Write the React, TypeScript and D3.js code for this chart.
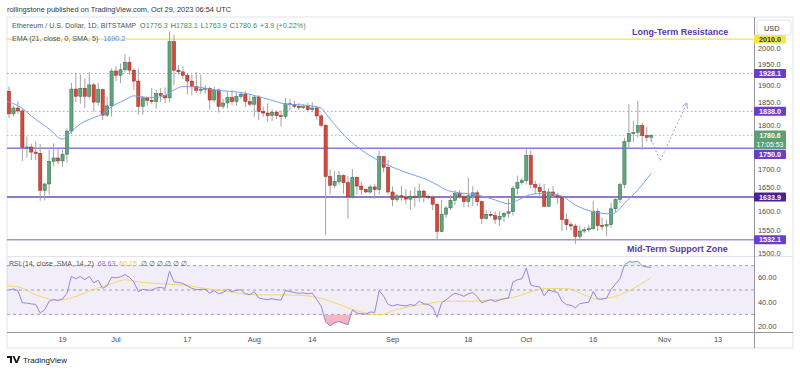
import React from "react";
import * as d3 from "d3";

// daily candles, Jun 7 .. Oct 29 2023 (Bitstamp ETH/USD)
const days = d3.utcDay.range(new Date(Date.UTC(2023, 5, 7)), new Date(Date.UTC(2023, 9, 30)));

const opens = [
  1886, 1832, 1846, 1839, 1752, 1753, 1741, 1738, 1650, 1665,
  1719, 1727, 1720, 1736, 1791, 1891, 1874, 1893, 1874, 1901,
  1860, 1890, 1829, 1851, 1934, 1924, 1937, 1955, 1936, 1910,
  1850, 1870, 1864, 1861, 1880, 1876, 1870, 2004, 1936, 1932,
  1924, 1910, 1897, 1888, 1891, 1893, 1865, 1889, 1850, 1858,
  1871, 1861, 1873, 1879, 1861, 1855, 1872, 1838, 1834, 1828,
  1836, 1828, 1826, 1856, 1854, 1850, 1847, 1849, 1842, 1846,
  1827, 1805, 1683, 1662, 1671, 1685, 1668, 1634, 1681, 1660,
  1652, 1646, 1658, 1652, 1730, 1705, 1646, 1628, 1637, 1634,
  1629, 1636, 1634, 1648, 1635, 1633, 1617, 1552, 1593, 1608,
  1626, 1642, 1635, 1623, 1637, 1644, 1623, 1583, 1593, 1590,
  1581, 1588, 1595, 1599, 1655, 1668, 1673, 1733, 1664, 1657,
  1647, 1612, 1646, 1638, 1634, 1580, 1568, 1565, 1540, 1553,
  1556, 1559, 1600, 1566, 1565, 1568, 1606, 1628, 1664, 1766,
  1785, 1788, 1804, 1780, 1776.3,
];
const highs = [
  1897, 1852, 1862, 1844, 1778, 1761, 1766, 1760, 1668, 1746,
  1762, 1748, 1746, 1797, 1906, 1930, 1926, 1916, 1932, 1906,
  1906, 1892, 1873, 1940, 1946, 1952, 1975, 1968, 1940, 1940,
  1875, 1872, 1893, 1890, 1893, 1895, 2028, 2020, 1948, 1945,
  1928, 1925, 1932, 1926, 1900, 1896, 1896, 1892, 1868, 1885,
  1889, 1884, 1883, 1886, 1877, 1876, 1877, 1849, 1857, 1843,
  1840, 1840, 1870, 1868, 1863, 1858, 1855, 1859, 1860, 1850,
  1832, 1807, 1700, 1696, 1696, 1688, 1684, 1700, 1683, 1670,
  1655, 1663, 1665, 1745, 1732, 1722, 1659, 1641, 1660, 1653,
  1650, 1658, 1666, 1651, 1640, 1638, 1619, 1627, 1613, 1638,
  1650, 1650, 1640, 1680, 1660, 1650, 1625, 1602, 1600, 1600,
  1600, 1598, 1630, 1660, 1685, 1680, 1750, 1745, 1673, 1667,
  1665, 1655, 1660, 1644, 1636, 1595, 1575, 1570, 1566, 1563,
  1568, 1625, 1607, 1585, 1580, 1620, 1634, 1668, 1775, 1855,
  1815, 1863, 1810, 1801, 1783.1,
];
const lows = [
  1822, 1826, 1831, 1720, 1728, 1722, 1722, 1625, 1626, 1640,
  1707, 1712, 1706, 1716, 1784, 1860, 1856, 1846, 1868, 1837,
  1852, 1817, 1825, 1825, 1910, 1905, 1930, 1925, 1888, 1830,
  1830, 1851, 1856, 1845, 1861, 1858, 1860, 1900, 1925, 1915,
  1878, 1876, 1882, 1880, 1880, 1842, 1859, 1835, 1843, 1845,
  1853, 1851, 1868, 1848, 1850, 1825, 1817, 1825, 1813, 1815,
  1820, 1802, 1820, 1840, 1845, 1842, 1844, 1838, 1836, 1818,
  1800, 1543, 1640, 1655, 1663, 1642, 1583, 1630, 1640, 1640,
  1643, 1642, 1630, 1640, 1693, 1640, 1612, 1622, 1625, 1617,
  1604, 1611, 1622, 1621, 1628, 1603, 1533, 1550, 1585, 1603,
  1615, 1630, 1610, 1610, 1612, 1612, 1570, 1580, 1585, 1570,
  1565, 1575, 1585, 1590, 1640, 1663, 1664, 1655, 1641, 1635,
  1610, 1610, 1632, 1618, 1553, 1555, 1555, 1522, 1533, 1548,
  1551, 1556, 1553, 1555, 1540, 1561, 1598, 1620, 1655, 1750,
  1765, 1775, 1746, 1766, 1763.9,
];
const closes = [
  1832, 1846, 1839, 1752, 1753, 1741, 1738, 1650, 1665, 1719,
  1727, 1720, 1736, 1791, 1891, 1874, 1893, 1874, 1901, 1860,
  1890, 1829, 1851, 1934, 1924, 1937, 1955, 1936, 1910, 1850,
  1870, 1864, 1861, 1880, 1876, 1870, 2004, 1936, 1932, 1924,
  1910, 1897, 1888, 1891, 1893, 1865, 1889, 1850, 1858, 1871,
  1861, 1873, 1879, 1861, 1855, 1872, 1838, 1834, 1828, 1836,
  1828, 1826, 1856, 1854, 1850, 1847, 1849, 1842, 1846, 1827,
  1805, 1683, 1662, 1671, 1685, 1668, 1634, 1681, 1660, 1652,
  1646, 1658, 1652, 1730, 1705, 1646, 1628, 1637, 1634, 1629,
  1636, 1634, 1648, 1635, 1633, 1617, 1552, 1593, 1608, 1626,
  1642, 1635, 1623, 1637, 1644, 1623, 1583, 1593, 1590, 1581,
  1588, 1595, 1599, 1655, 1668, 1673, 1733, 1664, 1657, 1647,
  1612, 1646, 1638, 1634, 1580, 1568, 1565, 1540, 1553, 1556,
  1559, 1600, 1566, 1565, 1568, 1606, 1628, 1664, 1766, 1785,
  1788, 1804, 1780, 1776.3, 1780.6,
];

// EMA 21
const emaPoints: [string, number][] = [
  ["2023-06-05", 1864], ["2023-06-07", 1860], ["2023-06-10", 1845], ["2023-06-12", 1827],
  ["2023-06-16", 1796], ["2023-06-19", 1772], ["2023-06-21", 1790], ["2023-06-23", 1808],
  ["2023-06-26", 1823], ["2023-06-28", 1832], ["2023-06-30", 1849], ["2023-07-03", 1865],
  ["2023-07-05", 1875], ["2023-07-07", 1872], ["2023-07-10", 1871], ["2023-07-12", 1876],
  ["2023-07-14", 1889], ["2023-07-16", 1897], ["2023-07-19", 1896], ["2023-07-23", 1889],
  ["2023-07-30", 1881], ["2023-08-02", 1873], ["2023-08-06", 1861], ["2023-08-08", 1855],
  ["2023-08-12", 1853], ["2023-08-16", 1846], ["2023-08-17", 1833], ["2023-08-19", 1807],
  ["2023-08-22", 1772], ["2023-08-25", 1746], ["2023-08-29", 1720], ["2023-09-01", 1705],
  ["2023-09-05", 1689], ["2023-09-09", 1674], ["2023-09-11", 1663], ["2023-09-13", 1651],
  ["2023-09-16", 1644], ["2023-09-20", 1639], ["2023-09-24", 1627], ["2023-09-27", 1618],
  ["2023-09-29", 1626], ["2023-10-02", 1640], ["2023-10-05", 1643], ["2023-10-09", 1636],
  ["2023-10-12", 1615], ["2023-10-16", 1599], ["2023-10-20", 1594], ["2023-10-21", 1597],
  ["2023-10-23", 1619], ["2023-10-26", 1651], ["2023-10-29", 1690.2],
];

// RSI 14, one value per candle
const rsiValues = [
  50.0, 50.8, 49.5, 39.5, 39.3, 38.6, 38.2, 31.1, 33.8, 40.8,
  42.1, 41.5, 42.6, 47.4, 61.1, 59.2, 61.1, 58.4, 61.1, 55.8,
  58.0, 51.3, 53.5, 60.5, 60.0, 60.8, 62.6, 60.4, 56.6, 48.7,
  50.5, 50.0, 49.8, 51.6, 52.1, 51.3, 65.3, 56.6, 56.2, 55.3,
  53.5, 51.3, 50.3, 50.5, 50.5, 47.4, 49.5, 47.0, 47.9, 50.5,
  48.7, 49.8, 50.2, 46.9, 46.2, 48.7, 43.4, 42.6, 42.1, 42.8,
  42.1, 41.8, 49.5, 48.8, 47.9, 47.3, 47.6, 46.9, 47.5, 42.1,
  36.9, 23.7, 20.6, 23.2, 24.2, 22.8, 21.6, 33.7, 31.1, 30.5,
  30.3, 32.0, 31.6, 49.5, 45.0, 38.2, 36.9, 38.0, 37.4, 37.0,
  38.0, 37.4, 40.8, 38.6, 38.2, 36.0, 27.7, 39.5, 42.0, 45.0,
  47.4, 46.3, 44.8, 46.8, 47.9, 44.5, 39.5, 41.0, 42.1, 40.6,
  41.8, 42.8, 43.4, 56.6, 58.4, 59.2, 67.9, 54.0, 53.0, 52.6,
  45.3, 50.0, 48.9, 48.0, 40.8, 38.0, 37.5, 35.5, 38.8, 39.5,
  40.0, 48.7, 42.6, 42.5, 43.4, 50.5, 54.8, 59.2, 70.5, 73.2,
  73.0, 73.7, 69.7, 68.9, 68.63,
];

// SMA 14 of RSI (yellow)
const rsiSmaPoints: [string, number][] = [
  ["2023-06-05", 53.4], ["2023-06-07", 53.2], ["2023-06-09", 52.6], ["2023-06-13", 46.0],
  ["2023-06-18", 41.6], ["2023-06-22", 44.8], ["2023-06-26", 50.5], ["2023-06-30", 55.3],
  ["2023-07-03", 58.4], ["2023-07-06", 56.6], ["2023-07-10", 55.3], ["2023-07-16", 54.0],
  ["2023-07-21", 51.3], ["2023-07-26", 48.7], ["2023-08-02", 46.0], ["2023-08-08", 46.0],
  ["2023-08-14", 44.8], ["2023-08-19", 39.5], ["2023-08-24", 32.9], ["2023-08-29", 29.5],
  ["2023-09-02", 34.2], ["2023-09-08", 38.2], ["2023-09-13", 40.8], ["2023-09-18", 40.8],
  ["2023-09-24", 42.1], ["2023-09-29", 44.8], ["2023-10-02", 48.7], ["2023-10-06", 51.3],
  ["2023-10-10", 51.3], ["2023-10-14", 46.0], ["2023-10-17", 42.6], ["2023-10-21", 44.8],
  ["2023-10-25", 51.3], ["2023-10-29", 60.15],
];

const levels = [2010.0, 1928.1, 1838.0, 1750.0, 1633.9, 1532.1];
const lastPrice = 1780.6;
const priceTicks = [1500, 1550, 1600, 1650, 1700, 1750, 1800, 1850, 1900, 1950, 2000];
const rsiTicks = [20, 40, 60];
const rsiBands = [70, 50, 30];
const timeTicks: [string, string][] = [
  ["2023-06-19", "19"], ["2023-07-01", "Jul"], ["2023-07-17", "17"], ["2023-08-01", "Aug"],
  ["2023-08-14", "14"], ["2023-09-01", "Sep"], ["2023-09-18", "18"], ["2023-10-01", "Oct"],
  ["2023-10-16", "16"], ["2023-11-01", "Nov"], ["2023-11-13", "13"],
];
const forecast: [string, number][] = [["2023-10-29", 1772], ["2023-10-31", 1720], ["2023-11-06", 1858]];

const levelStyle = [
  { line: "#f3e15c", dash: "", w: 1.2, box: "#f5e34a", txt: "#333" },
  { line: "#a596ea", dash: "1.5 2.5", w: 1, box: "#6a3fc6", txt: "#fff" },
  { line: "#a596ea", dash: "1.5 2.5", w: 1, box: "#6a3fc6", txt: "#fff" },
  { line: "#9576d8", dash: "", w: 1.4, box: "#6a3fc6", txt: "#fff" },
  { line: "#6f4dbb", dash: "", w: 1.4, box: "#4b2296", txt: "#fff" },
  { line: "#a592de", dash: "", w: 1.4, box: "#6a3fc6", txt: "#fff" },
];

const FONT = "'Liberation Sans', Arial, sans-serif";
const toDate = (s: string) => new Date(s + "T00:00:00Z");

const L = 7, PR = 754, R = 793;
const PT = 18, PB = 256, RT = 257, RB = 332, AB = 348;

export default function App() {
  const x = d3.scaleUtc().domain([days[0], days[days.length - 1]]).range([9, 651.2]);
  const y = d3.scaleLinear().domain([1500, 1800]).range([253.3, 127.3]);
  const yr = d3.scaleLinear().domain([30, 70]).range([314.4, 265.6]);

  const emaLine = d3.line<[string, number]>()
    .x((d) => x(toDate(d[0])))
    .y((d) => y(d[1]))
    .curve(d3.curveMonotoneX);
  const rsiLine = d3.line<number>()
    .x((_, i) => x(days[i]))
    .y((d) => yr(d));
  const smaLine = d3.line<[string, number]>()
    .x((d) => x(toDate(d[0])))
    .y((d) => yr(d[1]))
    .curve(d3.curveMonotoneX);
  const lowArea = d3.area<number>()
    .x((_, i) => x(days[i]))
    .y0(yr(30))
    .y1((d) => yr(d));
  const highArea = d3.area<number>()
    .x((_, i) => x(days[i]))
    .y0(yr(70))
    .y1((d) => yr(d));

  const fc = forecast.map((d) => [x(toDate(d[0])), y(d[1])] as [number, number]);
  const tip = fc[fc.length - 1];
  const prev = fc[fc.length - 2];
  const ang = Math.atan2(tip[1] - prev[1], tip[0] - prev[0]);
  const head = (a: number) => [tip[0] - 6 * Math.cos(ang + a), tip[1] - 6 * Math.sin(ang + a)];
  const h1 = head(0.5), h2 = head(-0.5);

  const bw = 3.2;
  const ly = y(lastPrice);

  // axis label boxes: last price box (with countdown) sits on its price, the 1750 box is pushed below it
  const lastBox = { top: ly - 5, h: 19 };
  const boxCenter = (p: number, i: number) => (i === 3 ? lastBox.top + lastBox.h + 5 : y(p));
  const boxes = levels.map((p, i) => [boxCenter(p, i) - 4.5, boxCenter(p, i) + 4.5]);
  boxes.push([lastBox.top, lastBox.top + lastBox.h]);
  const covered = (p: number) => boxes.some(([a, b]) => y(p) > a + 1 && y(p) < b - 1);
  // ticks that only graze a box are nudged off it so both stay readable
  const tickY = (p: number) => {
    let ty = y(p);
    boxes.forEach(([a, b]) => {
      if (ty + 4.7 > a && ty - 4.7 < b) ty = ty < (a + b) / 2 ? a - 4.7 : b + 4.7;
    });
    return ty;
  };

  return (
    <svg width={800} height={372} style={{ display: "block", position: "absolute", left: 0, top: 0 }} fontFamily={FONT}>
      <defs>
        <clipPath id="pricePane"><rect x={L} y={PT} width={PR - L} height={PB - PT} /></clipPath>
        <clipPath id="rsiPane"><rect x={L} y={RT} width={PR - L} height={RB - RT} /></clipPath>
        <clipPath id="below30"><rect x={L} y={yr(30)} width={PR - L} height={RB - yr(30)} /></clipPath>
        <clipPath id="above70"><rect x={L} y={RT} width={PR - L} height={yr(70) - RT} /></clipPath>
        <clipPath id="axisPane"><rect x={PR} y={PT} width={R - PR} height={PB - PT} /></clipPath>
        <linearGradient id="pinkFill" x1="0" y1="0" x2="0" y2="1">
          <stop offset="0%" stopColor="#f7c6cf" stopOpacity={0.5} />
          <stop offset="100%" stopColor="#f28aa0" stopOpacity={0.7} />
        </linearGradient>
      </defs>
      <rect x={0} y={0} width={800} height={372} fill="#fff" />

      <text x={7} y={12} fontSize={7.4} fill="#333">
        rollingstone published on TradingView.com, Oct 29, 2023 06:54 UTC
      </text>

      {/* frame */}
      <rect x={L} y={17} width={R - L} height={AB - 17} fill="none" stroke="#e0e3eb" />
      <line x1={L} x2={R} y1={PB + 0.5} y2={PB + 0.5} stroke="#e0e3eb" />
      <line x1={L} x2={R} y1={RB + 0.5} y2={RB + 0.5} stroke="#9598a1" />
      <line x1={PR + 0.5} x2={PR + 0.5} y1={17} y2={AB} stroke="#9598a1" />

      {/* price pane */}
      <g clipPath="url(#pricePane)">
        {levels.map((p, i) => (
          <line key={p} x1={L} x2={PR} y1={y(p)} y2={y(p)} stroke={levelStyle[i].line}
            strokeWidth={levelStyle[i].w} strokeDasharray={levelStyle[i].dash} />
        ))}
        <line x1={L} x2={PR} y1={ly} y2={ly} stroke="#9fc7b0" strokeDasharray="1.5 2.5" />
        {days.map((d, i) => (
          <line key={"w" + i} x1={x(d)} x2={x(d)} y1={y(highs[i])} y2={y(lows[i])} stroke="#a3a3a3" strokeWidth={1} />
        ))}
        {days.map((d, i) => {
          const up = closes[i] >= opens[i];
          const top = y(Math.max(opens[i], closes[i]));
          const hgt = Math.max(1, Math.abs(y(opens[i]) - y(closes[i])));
          return (
            <rect key={"b" + i} x={x(d) - bw / 2} y={top} width={bw} height={hgt}
              fill={up ? "#62a57c" : "#d64a3e"} stroke={up ? "#2d6e48" : "#8e2a21"} strokeWidth={0.5} />
          );
        })}
        <path d={emaLine(emaPoints) || ""} fill="none" stroke="#74a2f4" strokeWidth={1} />
        <polyline points={fc.map((p) => p.join(",")).join(" ")} fill="none" stroke="#aa9ded" strokeWidth={1} strokeDasharray="2 2" />
        <polyline points={[h1, tip, h2].map((p) => p.join(",")).join(" ")} fill="none" stroke="#aa9ded" strokeWidth={1} />
        <text x={632} y={35} fontSize={9} fontWeight="bold" fill="#5b36ad">Long-Term Resistance</text>
        <text x={627} y={252} fontSize={9} fontWeight="bold" fill="#5b36ad">Mid-Term Support Zone</text>
      </g>

      {/* legend */}
      <text x={12} y={28} fontSize={7.2} fill="#555">
        Ethereum / U.S. Dollar, 1D, BITSTAMP
        <tspan dx={4}>O</tspan><tspan fill="#3f8a5e">1776.3</tspan>
        <tspan dx={3}>H</tspan><tspan fill="#3f8a5e">1783.1</tspan>
        <tspan dx={3}>L</tspan><tspan fill="#3f8a5e">1763.9</tspan>
        <tspan dx={3}>C</tspan><tspan fill="#3f8a5e">1780.6</tspan>
        <tspan dx={3} fill="#3f8a5e">+3.9 (+0.22%)</tspan>
      </text>
      <text x={12} y={41} fontSize={7.2} fill="#555">
        EMA (21, close, 0, SMA, 5)<tspan dx={5} fill="#4f8ef0">1690.2</tspan>
      </text>

      {/* price axis */}
      <g clipPath="url(#axisPane)">
        {priceTicks.filter((p) => !covered(p)).map((p) => (
          <text key={p} x={758} y={tickY(p) + 2.6} fontSize={7.4} fill="#4a4a4a">{p.toFixed(1)}</text>
        ))}
        {levels.map((p, i) => {
          const cy = boxCenter(p, i);
          return (
            <g key={"l" + p}>
              <rect x={PR} y={cy - 4.5} width={32} height={9} fill={levelStyle[i].box} rx={1} />
              <text x={770} y={cy + 2.5} fontSize={7.2} fontWeight="bold" fill={levelStyle[i].txt} textAnchor="middle">{p.toFixed(1)}</text>
            </g>
          );
        })}
        <rect x={PR} y={lastBox.top} width={32} height={lastBox.h} fill="#5d9f74" rx={1} />
        <text x={770} y={lastBox.top + 7.4} fontSize={6.9} fontWeight="bold" fill="#fff" textAnchor="middle">{lastPrice.toFixed(1)}</text>
        <text x={770} y={lastBox.top + 16.6} fontSize={6.9} fill="#fff" textAnchor="middle">17:05:53</text>
      </g>
      <rect x={757} y={20} width={34} height={15} rx={3} fill="#fff" stroke="#e0e3eb" />
      <text x={764} y={30.5} fontSize={7.4} fill="#333">USD</text>

      {/* RSI pane */}
      <g clipPath="url(#rsiPane)">
        <rect x={L} y={yr(70)} width={PR - L} height={yr(30) - yr(70)} fill="#7e57c2" fillOpacity={0.1} />
        {rsiBands.map((v) => (
          <line key={v} x1={L} x2={PR} y1={yr(v)} y2={yr(v)} stroke="#8a8d96" strokeWidth={0.8} strokeDasharray="3 3" />
        ))}
        <path d={lowArea(rsiValues) || ""} fill="url(#pinkFill)" clipPath="url(#below30)" />
        <path d={highArea(rsiValues) || ""} fill="#9ed9b6" fillOpacity={0.35} clipPath="url(#above70)" />
        <path d={smaLine(rsiSmaPoints) || ""} fill="none" stroke="#f2d655" strokeWidth={0.9} />
        <path d={rsiLine(rsiValues) || ""} fill="none" stroke="#9177d8" strokeWidth={0.9} />
      </g>
      <text x={9} y={266} fontSize={7} fill="#555">
        RSI (14, close, SMA, 14, 2)
        <tspan dx={4} fill="#8a6fd6">68.63</tspan>
        <tspan dx={4} fill="#e8c43c">60.15</tspan>
        <tspan dx={4}>∅  ∅  ∅  ∅  ∅  ∅</tspan>
      </text>
      {rsiTicks.map((v) => (
        <text key={v} x={758} y={yr(v) + 2.6} fontSize={7.4} fill="#4a4a4a">{v.toFixed(2)}</text>
      ))}

      {/* time axis */}
      {timeTicks.map(([d, label]) => (
        <text key={d} x={x(toDate(d))} y={341.5} fontSize={7.4} fill="#4a4a4a" textAnchor="middle">{label}</text>
      ))}

      {/* footer logo */}
      <g transform="translate(7,356)">
        <path d="M0 0 H5 V7 H3 V2 H0 Z M5.5 0 H7.5 L9.5 5 L11.5 0 H13.5 L10.5 7 H8.5 Z" fill="#131722" />
        <text x={16} y={7} fontSize={8} fill="#131722">TradingView</text>
      </g>
    </svg>
  );
}
